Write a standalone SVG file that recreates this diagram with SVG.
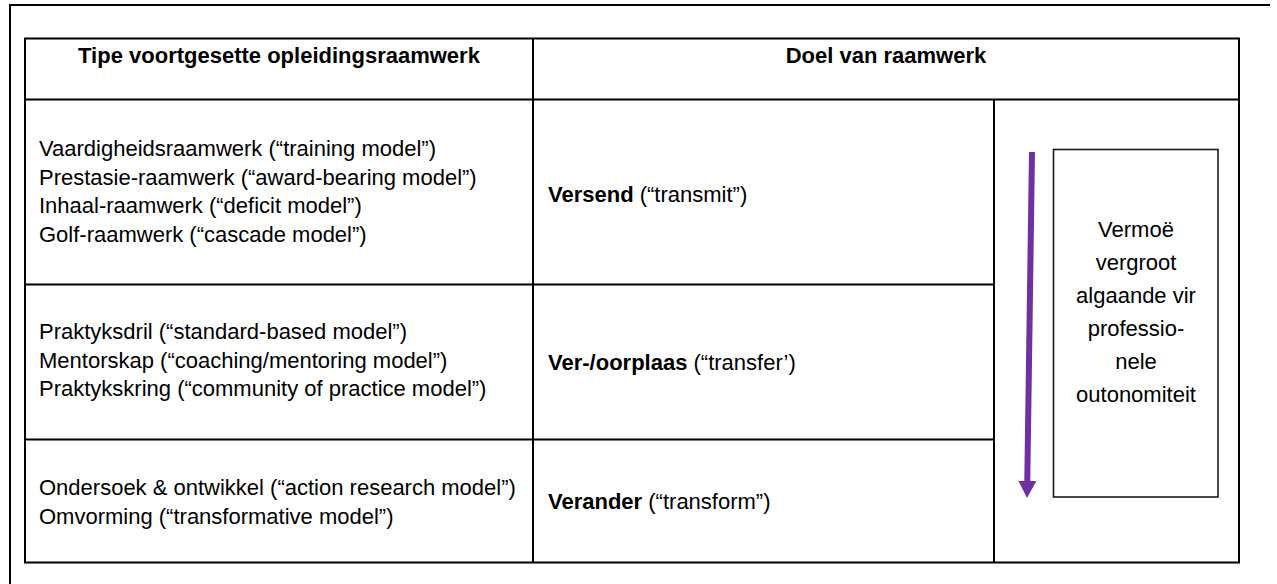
<svg xmlns="http://www.w3.org/2000/svg" width="1277" height="584" viewBox="0 0 1277 584">
<style>
  text { font-family: "Liberation Sans", Arial, sans-serif; font-size: 22px; fill: #000; }
  .b { font-weight: bold; }
  .c { text-anchor: middle; }
  .ln { stroke: #000; stroke-width: 2; fill: none; }
  .box { stroke: #1a1a1a; stroke-width: 1.6; fill: #fff; }
</style>
<defs>
  <marker id="ah" viewBox="0 0 17 18" refX="0" refY="9" markerWidth="17" markerHeight="18" markerUnits="userSpaceOnUse" orient="auto">
    <path d="M0,0 L17,9 L0,18 Z" fill="#7030A0"/>
  </marker>
</defs>
<rect width="1277" height="584" fill="#fff"/>
<g id="frame">
  <path class="ln" d="M10,590 V5 H1270"/>
</g>
<g id="table">
  <rect class="ln" x="25" y="38.5" width="1214" height="524"/>
  <path class="ln" d="M25,99.5 H1239 M25,284.5 H994 M25,439.5 H994 M533,38.5 V562.5 M994,99.5 V562.5"/>
</g>
<g id="header-type">
  <text class="b c" x="279" y="63">Tipe voortgesette opleidingsraamwerk</text>
</g>
<g id="header-goal">
  <text class="b c" x="886" y="63">Doel van raamwerk</text>
</g>
<g id="row1-types">
  <text x="39" y="156">Vaardigheidsraamwerk (“training model”)</text>
  <text x="39" y="184.5">Prestasie-raamwerk (“award-bearing model”)</text>
  <text x="39" y="213">Inhaal-raamwerk (“deficit model”)</text>
  <text x="39" y="241.5">Golf-raamwerk (“cascade model”)</text>
</g>
<g id="row1-goal">
  <text x="548" y="202"><tspan class="b">Versend</tspan> (“transmit”)</text>
</g>
<g id="row2-types">
  <text x="39" y="339">Praktyksdril (“standard-based model”)</text>
  <text x="39" y="367.5">Mentorskap (“coaching/mentoring model”)</text>
  <text x="39" y="396">Praktykskring (“community of practice model”)</text>
</g>
<g id="row2-goal">
  <text x="548" y="370"><tspan class="b">Ver-/oorplaas</tspan> (“transfer’)</text>
</g>
<g id="row3-types">
  <text x="39" y="495">Ondersoek &amp; ontwikkel (“action research model”)</text>
  <text x="39" y="523.5">Omvorming (“transformative model”)</text>
</g>
<g id="row3-goal">
  <text x="548" y="509"><tspan class="b">Verander</tspan> (“transform”)</text>
</g>
<g id="autonomy-box">
  <rect class="box" x="1053.5" y="149.5" width="164.5" height="347.5"/>
  <text class="c" x="1136" y="237">Vermoë</text>
  <text class="c" x="1136" y="270">vergroot</text>
  <text class="c" x="1136" y="303">algaande vir</text>
  <text class="c" x="1136" y="336">professio-</text>
  <text class="c" x="1136" y="369">nele</text>
  <text class="c" x="1136" y="402">outonomiteit</text>
</g>
<g id="connectors">
  <line x1="1032" y1="152" x2="1027.3" y2="481" stroke="#7030A0" stroke-width="6" marker-end="url(#ah)"/>
</g>
</svg>
